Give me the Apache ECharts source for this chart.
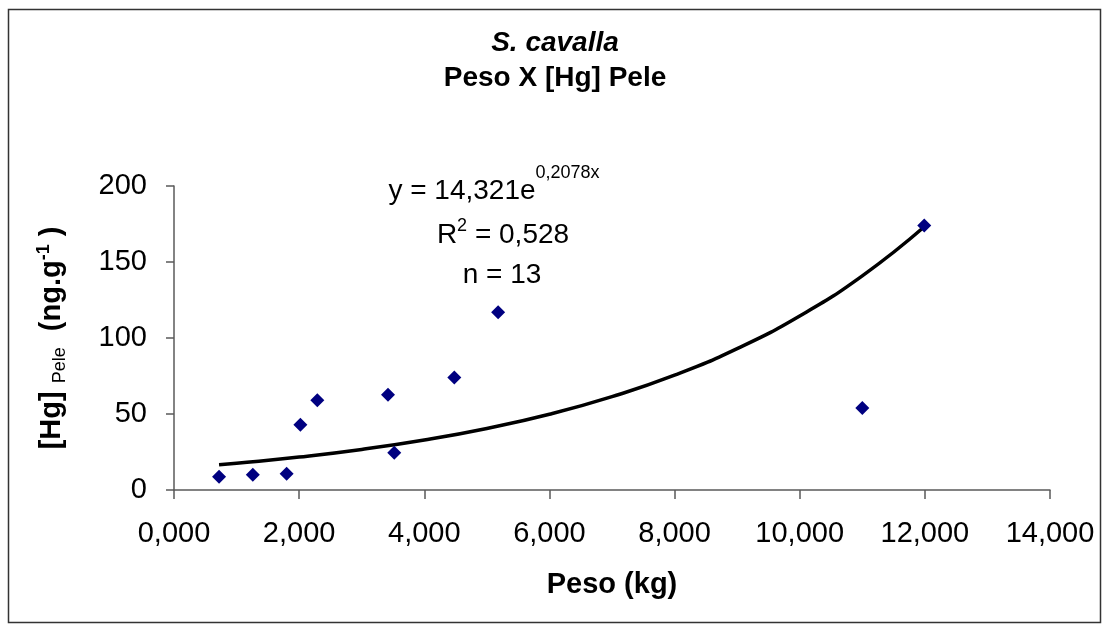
<!DOCTYPE html>
<html>
<head>
<meta charset="utf-8">
<script src="https://cdn.jsdelivr.net/npm/echarts@6/dist/echarts.min.js"></script>
<style>
html,body{margin:0;padding:0;background:#fff;}
#chart{width:1109px;height:632px;}
</style>
</head>
<body>
<div id="chart"></div>
<script>
// Observed points: Peso (kg) and [Hg] Pele (ng/g)
const pesoKg = [0.72, 1.26, 1.80, 2.02, 2.29, 3.42, 3.52, 4.48, 5.18, 11.0, 11.99];
const hgPele = [8.7, 10.1, 10.7, 42.9, 59.0, 62.6, 24.5, 74.0, 117.0, 53.9, 174.0];
// Trendline
const trendX = [0.72, 1, 2, 3, 4, 5, 6, 7, 8, 9, 10, 11, 12];
const trendY = [16.6, 17.6, 21.7, 26.7, 32.9, 40.5, 49.8, 61.4, 75.5, 93.0, 114.5, 140.9, 173.5];
const xTicks = {min: 0, max: 14, step: 2};
const yTicks = {min: 0, max: 200, step: 50};
const titleLine1 = 'S. cavalla';
const titleLine2 = 'Peso X [Hg] Pele';
const xTitle = 'Peso (kg)';
const eqText = ['y = 14,321e', '0,2078x'];
const r2Text = ['R', '2', ' = 0,528'];
const nText = 'n = 13';

const FONT = '"Liberation Sans", Arial, sans-serif';
const chart = echarts.init(document.getElementById('chart'));

const points = pesoKg.map((x, i) => [x, hgPele[i]]);
const trend = trendX.map((x, i) => [x, trendY[i]]);

chart.setOption({
  backgroundColor: '#fff',
  animation: false,
  textStyle: {fontFamily: FONT},
  grid: {left: 174, right: 59, top: 186, bottom: 142},
  xAxis: {
    type: 'value', min: xTicks.min, max: xTicks.max, interval: xTicks.step,
    name: xTitle, nameLocation: 'middle', nameGap: 80,
    nameTextStyle: {fontFamily: FONT, fontSize: 29, fontWeight: 'bold', color: '#000'},
    axisLine: {show: true, lineStyle: {color: '#5a5a5a', width: 1.5}},
    axisTick: {show: true, length: 9, lineStyle: {color: '#5a5a5a', width: 1.5}},
    axisLabel: {fontFamily: FONT, fontSize: 29, color: '#000', margin: 29,
      formatter: v => v.toFixed(3).replace('.', ',')},
    splitLine: {show: false}
  },
  yAxis: {
    type: 'value', min: yTicks.min, max: yTicks.max, interval: yTicks.step,
    name: '{b|[Hg] }{s|Pele}{b|  (ng.g}{p|-1}{b| )}', nameLocation: 'middle', nameGap: 105, nameRotate: 90,
    nameTextStyle: {
      rich: {
        b: {fontFamily: FONT, fontSize: 29, fontWeight: 'bold', color: '#000', lineHeight: 34},
        s: {fontFamily: FONT, fontSize: 18, fontWeight: 'normal', color: '#000', lineHeight: 34, verticalAlign: 'bottom'},
        p: {fontFamily: FONT, fontSize: 18, fontWeight: 'bold', color: '#000', lineHeight: 34, verticalAlign: 'top'}
      }
    },
    axisLine: {show: true, lineStyle: {color: '#5a5a5a', width: 1.5}},
    axisTick: {show: true, length: 8, lineStyle: {color: '#5a5a5a', width: 1.5}},
    axisLabel: {fontFamily: FONT, fontSize: 29, color: '#000', margin: 27},
    splitLine: {show: false}
  },
  series: [
    {
      type: 'line', data: trend, smooth: true, showSymbol: false, symbol: 'none',
      lineStyle: {color: '#000', width: 3.5}, z: 2, silent: true
    },
    {
      type: 'scatter', data: points, symbol: 'diamond', symbolSize: 14,
      itemStyle: {color: '#000080', opacity: 1}, z: 3
    }
  ],
  graphic: [
    {type: 'rect', shape: {x: 8.5, y: 9.5, width: 1092, height: 613}, style: {fill: 'none', stroke: '#333', lineWidth: 1.5}, z: -1},
    {type: 'text', x: 555, y: 57, style: {text: titleLine1, fontFamily: FONT, fontSize: 28, fontWeight: 'bold', fontStyle: 'italic', fill: '#000', textAlign: 'center', textVerticalAlign: 'bottom'}},
    {type: 'text', x: 555, y: 92, style: {text: titleLine2, fontFamily: FONT, fontSize: 28, fontWeight: 'bold', fill: '#000', textAlign: 'center', textVerticalAlign: 'bottom'}},
    {type: 'text', x: 494, y: 191, style: {
      text: '{m|' + eqText[0] + '}{p|' + eqText[1] + '}',
      textAlign: 'center', textVerticalAlign: 'middle',
      rich: {
        m: {fontFamily: FONT, fontSize: 28, fill: '#000', lineHeight: 54},
        p: {fontFamily: FONT, fontSize: 18, fill: '#000', lineHeight: 54, verticalAlign: 'top'}
      }}},
    {type: 'text', x: 503, y: 235, style: {
      text: '{m|' + r2Text[0] + '}{p|' + r2Text[1] + '}{m|' + r2Text[2] + '}',
      textAlign: 'center', textVerticalAlign: 'middle',
      rich: {
        m: {fontFamily: FONT, fontSize: 28, fill: '#000', lineHeight: 36},
        p: {fontFamily: FONT, fontSize: 18, fill: '#000', lineHeight: 36, verticalAlign: 'top'}
      }}},
    {type: 'text', x: 502, y: 289, style: {text: nText, fontFamily: FONT, fontSize: 28, fill: '#000', textAlign: 'center', textVerticalAlign: 'bottom'}}
  ]
});
</script>
</body>
</html>
